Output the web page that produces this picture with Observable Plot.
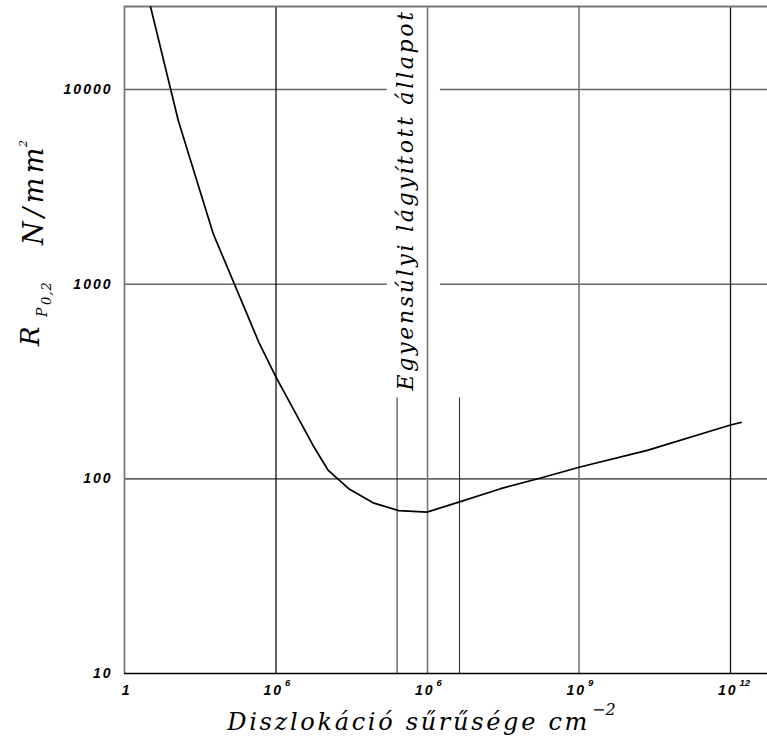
<!DOCTYPE html>
<html>
<head>
<meta charset="utf-8">
<script src="https://cdn.jsdelivr.net/npm/d3@7"></script>
<script src="https://cdn.jsdelivr.net/npm/@observablehq/plot@0.6"></script>
<style>
  html, body { margin: 0; padding: 0; background: #fff; }
</style>
</head>
<body>
<div id="chart"></div>
<script>
// Dislocation density (cm^-2) and yield strength R_p0.2 (N/mm^2)
const density  = [3.27, 11.6, 57, 457, 1000, 5450, 10700, 27500, 87000, 269000, 977000, 4.17e6, 2.8e7, 1.74e8, 1.05e9, 2.24e10, 1e12, 1.62e12];
const strength = [26700, 6930, 1820, 503, 333, 148, 111, 89, 75, 68.7, 67.5, 75.9, 89, 101, 115, 140, 189, 195];

// axes
const xDomain = [1, 5.4e12];
const yDomain = [10, 26700];
const xTickValues = [1, 1e3, 1e6, 1e9, 1e12];
const xTickBase = ["1", "10", "10", "10", "10"];
const xTickExp = ["", "6", "6", "9", "12"];
const yTickValues = [10, 100, 1000, 10000];
const yTickLabels = ["10", "100", "1000", "10000"];

// grid
const hGridFull = [100];
const hGridSplit = [1000, 10000];
const gapStart = 1.6e5, gapEnd = 1.8e6;
const vGridDark = [1e3, 1e12];
const vGridLight = [1e6, 1e9];
const bandEdges = [2.5e5, 4.3e6];
const bandTop = 260;

// texts
const noteText = "Egyensúlyi lágyított állapot";
const xTitle = "Diszlokáció sűrűsége cm";
const xTitleExp = "−2";
const yTitleMain = "R", yTitleSub = "P", yTitleSub2 = "0,2", yTitleUnit = "N/mm", yTitleUnitExp = "2";

const serif = "DejaVu Serif";
const sans = "Liberation Sans";

const chart = Plot.plot({
  width: 767,
  height: 745,
  marginLeft: 124,
  marginRight: 0,
  marginTop: 6,
  marginBottom: 72,
  x: {type: "log", domain: xDomain, axis: null},
  y: {type: "log", domain: yDomain, axis: null},
  marks: [
    // horizontal grid
    Plot.ruleY(hGridFull, {stroke: "#666", strokeWidth: 1.6}),
    Plot.ruleY(hGridSplit, {x1: xDomain[0], x2: gapStart, stroke: "#666", strokeWidth: 1.6}),
    Plot.ruleY(hGridSplit, {x1: gapEnd, x2: xDomain[1], stroke: "#666", strokeWidth: 1.6}),
    // vertical grid
    Plot.ruleX(vGridDark, {stroke: "#111", strokeWidth: 1.3}),
    Plot.ruleX(vGridLight, {stroke: "#777", strokeWidth: 1.6}),
    Plot.ruleX(bandEdges, {y1: yDomain[0], y2: bandTop, stroke: "#333", strokeWidth: 1.1}),
    // frame
    Plot.ruleX([xDomain[0]], {stroke: "#777", strokeWidth: 1.8}),
    Plot.ruleY([yDomain[1]], {stroke: "#777", strokeWidth: 1.8}),
    Plot.ruleY([yDomain[0]], {stroke: "#000", strokeWidth: 1.5}),
    // curve
    Plot.line(density.map((d, i) => ({x: d, y: strength[i]})), {x: "x", y: "y", stroke: "#000", strokeWidth: 1.7, clip: true}),
    // y tick labels
    Plot.text(yTickValues, {y: d => d, text: (d, i) => yTickLabels[i], frameAnchor: "left", textAnchor: "end", dx: -12, dy: 0,
      fontFamily: sans, fontSize: 14, fontWeight: "bold", fontStyle: "italic"}),
    // x tick labels
    Plot.text(xTickValues, {x: d => d, text: (d, i) => xTickBase[i], frameAnchor: "bottom", textAnchor: "end", dx: 7, dy: 21,
      fontFamily: sans, fontSize: 14, fontWeight: "bold", fontStyle: "italic"}),
    Plot.text(xTickValues, {x: d => d, text: (d, i) => xTickExp[i], frameAnchor: "bottom", textAnchor: "start", dx: 9, dy: 12,
      fontFamily: sans, fontSize: 9.5, fontWeight: "bold", fontStyle: "italic"}),
    // vertical note
    Plot.text([noteText], {x: 1e6, text: d => d, frameAnchor: "bottom", rotate: -90, textAnchor: "start", lineAnchor: "bottom",
      dx: -15, dy: -283, fontFamily: serif, fontSize: 22, fontStyle: "italic", fill: "#000"}),
    // x title
    Plot.text([xTitle], {text: d => d, frameAnchor: "bottom", textAnchor: "end", lineAnchor: "bottom", dx: 144, dy: 56,
      fontFamily: serif, fontSize: 24, fontStyle: "italic"}),
    Plot.text([xTitleExp], {text: d => d, frameAnchor: "bottom", textAnchor: "start", lineAnchor: "bottom", dx: 146, dy: 41,
      fontFamily: serif, fontSize: 16, fontStyle: "italic"}),
    // y title pieces
    Plot.text([yTitleMain], {text: d => d, frameAnchor: "left", rotate: -90, textAnchor: "start", lineAnchor: "bottom", dx: -86, dy: 6,
      fontFamily: serif, fontSize: 26, fontStyle: "italic"}),
    Plot.text([yTitleSub], {text: d => d, frameAnchor: "left", rotate: -90, textAnchor: "start", lineAnchor: "bottom", dx: -78, dy: -23,
      fontFamily: serif, fontSize: 14, fontStyle: "italic"}),
    Plot.text([yTitleSub2], {text: d => d, frameAnchor: "left", rotate: -90, textAnchor: "start", lineAnchor: "bottom", dx: -74, dy: -35,
      fontFamily: serif, fontSize: 13, fontStyle: "italic"}),
    Plot.text([yTitleUnit], {text: d => d, frameAnchor: "left", rotate: -90, textAnchor: "start", lineAnchor: "bottom", dx: -82, dy: -95,
      fontFamily: serif, fontSize: 27, fontStyle: "italic"}),
    Plot.text([yTitleUnitExp], {text: d => d, frameAnchor: "left", rotate: -90, textAnchor: "start", lineAnchor: "bottom", dx: -98, dy: -193,
      fontFamily: serif, fontSize: 11, fontStyle: "italic"})
  ]
});

// letter spacing (not a Plot option): applied by text content
const spacing = new Map([
  [noteText, "2.7px"], [xTitle, "2.7px"], [yTitleUnit, "4.5px"], [yTitleSub2, "1px"]
]);
const tickTexts = new Set([...yTickLabels, ...xTickBase]);
d3.select(chart).selectAll("text").each(function () {
  const t = this.textContent;
  if (spacing.has(t)) this.style.letterSpacing = spacing.get(t);
  else if (tickTexts.has(t)) this.style.letterSpacing = "2px";
});
document.getElementById("chart").appendChild(chart);
</script>
</body>
</html>
